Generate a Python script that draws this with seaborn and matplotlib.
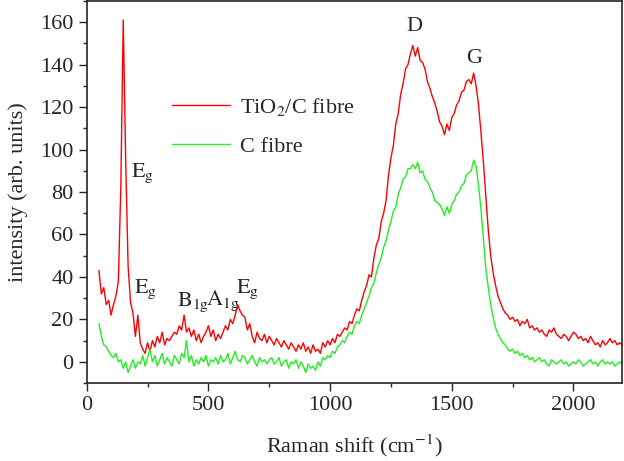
import numpy as np
import pandas as pd
import matplotlib
matplotlib.use("Agg")
import matplotlib.pyplot as plt
from matplotlib.ticker import MultipleLocator
import seaborn as sns

# ── Data (10 cm-1 steps) ──────────────────────────────────────
raman_shift = np.arange(50, 2201, 10)

tio2_c_fibre = [
    43, 32, 35, 27, 29, 22, 27, 31, 38, 82,
    161, 95, 45, 28, 23, 12, 22, 9, 6, 4,
    9, 5, 10, 7, 12, 9, 14, 8, 11, 10,
    12, 14, 13, 17, 15, 22, 14, 16, 12, 15,
    10, 13, 9, 12, 14, 17, 12, 15, 10, 13,
    11, 14, 17, 15, 20, 18, 22, 27, 24, 22,
    21, 15, 18, 12, 9, 14, 11, 10, 13, 9,
    12, 10, 8, 11, 9, 7, 10, 8, 6, 9,
    7, 5, 8, 6, 9, 5, 7, 4, 8, 5,
    6, 4, 9, 7, 10, 8, 11, 9, 13, 12,
    14, 16, 15, 19, 18, 22, 25, 24, 29, 33,
    36, 41, 40, 49, 55, 58, 66, 70, 76, 88,
    96, 102, 112, 117, 126, 131, 138, 140, 145, 149,
    144, 148, 142, 141, 138, 132, 129, 125, 122, 118,
    113, 111, 107, 112, 109, 115, 117, 121, 123, 127,
    128, 132, 133, 131, 136, 130, 121, 108, 94, 78,
    62, 50, 42, 36, 31, 28, 25, 23, 22, 20,
    21, 19, 20, 17, 19, 18, 20, 16, 17, 15,
    16, 14, 15, 13, 12, 15, 14, 16, 13, 12,
    11, 13, 12, 10, 12, 14, 13, 11, 12, 10,
    11, 9, 12, 10, 8, 9, 7, 10, 8, 9,
    11, 9, 10, 8, 9, 8,
]

c_fibre = [
    18, 12, 8, 7, 5, 3, 2, 4, 0, 1,
    -3, 0, -5, -2, 1, -3, 0, -1, 3, -2,
    2, 6, 0, 3, -2, 1, 4, -1, 2, 0,
    -2, 3, 1, -1, 4, 2, 10, 0, 3, -2,
    1, -1, 2, 0, 3, -2, 1, 0, 2, -1,
    3, 0, 1, 4, -1, 2, 5, 1, 0, 3,
    2, -1, 1, 3, 0, -2, 2, 0, 1, -1,
    1, 2, -1, 0, 2, -2, 0, 1, -3, 0,
    -1, 1, -3, 0, -2, -5, -1, -3, -2, -4,
    0, -2, 2, 1, 3, 2, 5, 4, 7, 8,
    10, 9, 12, 14, 13, 17, 19, 18, 22, 25,
    28, 31, 35, 37, 42, 46, 49, 54, 57, 62,
    66, 71, 73, 79, 82, 86, 87, 91, 91, 93,
    91, 94, 89, 90, 86, 85, 82, 80, 76, 75,
    74, 72, 69, 73, 70, 74, 76, 79, 80, 83,
    84, 88, 89, 90, 95, 92, 83, 72, 58, 44,
    35, 27, 21, 16, 13, 11, 9, 8, 6, 5,
    6, 4, 5, 3, 4, 2, 3, 1, 2, 0,
    1, 2, 0, 1, -1, -2, 1, 0, -1, 0,
    1, -1, 0, -2, -1, 0, -1, 1, 0, -2,
    -1, 0, 1, -1, 0, -2, 0, 1, -1, 0,
    -1, 0, -2, -1, 0, -1,
]

# peak labels: (text, x, y)
peak_labels = [
    (r"$\mathrm{E_g}$", 183, 89),
    (r"$\mathrm{E_g}$", 195, 34),
    (r"$\mathrm{B_{1g}}$", 372, 28),
    (r"$\mathrm{A_{1g}}$", 491, 29),
    (r"$\mathrm{E_g}$", 614, 34),
    ("D", 1346, 158),
    ("G", 1593, 143),
]

# ── Style ─────────────────────────────────────────────────────
sns.set_style("ticks")
plt.rcParams["font.family"] = ["Liberation Serif", "DejaVu Serif"]
plt.rcParams["mathtext.fontset"] = "stix"
plt.rcParams["xtick.direction"] = "out"
plt.rcParams["ytick.direction"] = "out"

df = pd.DataFrame({
    "shift": np.concatenate([raman_shift, raman_shift]),
    "intensity": tio2_c_fibre + c_fibre,
    "sample": ["TiO$_2$/C fibre"] * len(raman_shift) + ["C fibre"] * len(raman_shift),
})

fig = plt.figure(figsize=(6.24, 4.61), dpi=100)
ax = fig.add_axes([0.139, 0.169, 0.858, 0.829])

sns.lineplot(data=df, x="shift", y="intensity", hue="sample",
             palette=["#ff0000", "#22ee22"], lw=1.0, ax=ax, sort=False,
             estimator=None)

ax.set_xlim(0, 2200)
ax.set_ylim(-10, 170)
ax.xaxis.set_major_locator(MultipleLocator(500))
ax.xaxis.set_minor_locator(MultipleLocator(250))
ax.yaxis.set_major_locator(MultipleLocator(20))
ax.yaxis.set_minor_locator(MultipleLocator(10))
ax.tick_params(which="major", length=6, width=1, labelsize=16)
ax.tick_params(which="minor", length=3, width=1)
for s in ax.spines.values():
    s.set_linewidth(1.2)

ax.set_xlabel("Raman shift (cm$^{-1}$)", fontsize=16)
ax.set_ylabel("intensity (arb. units)", fontsize=16)
ax.xaxis.set_label_coords(0.5, -0.13)
ax.yaxis.set_label_coords(-0.11, 0.5)

for txt, x, y in peak_labels:
    ax.text(x, y, txt, fontsize=16, ha="left" if txt.startswith("$") else "center",
            va="center")

leg = ax.legend(loc="upper left", bbox_to_anchor=(0.16, 0.752), frameon=False,
                fontsize=16, handlelength=2.6, handletextpad=0.45,
                labelspacing=0.85, borderpad=0, borderaxespad=0)
leg.set_title(None)

fig.savefig("out.png", dpi=100)
